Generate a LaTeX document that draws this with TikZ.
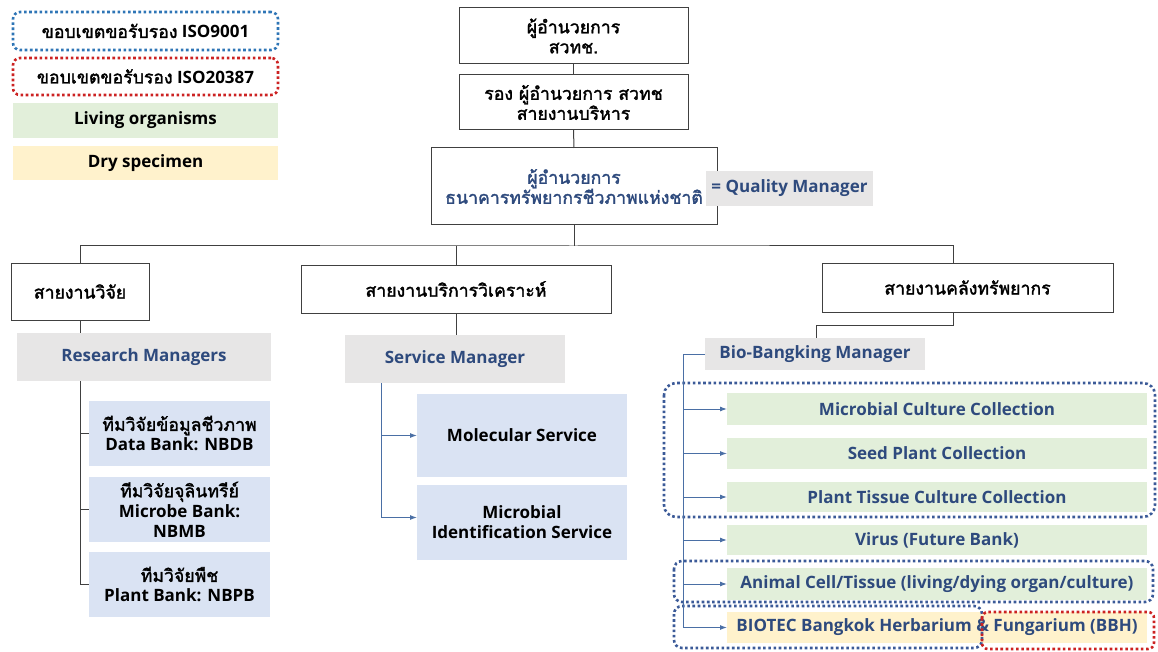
\documentclass[tikz,border=0pt]{standalone}
\usepackage{fontspec}
\setmainfont{Open Sans}
\newfontfamily\thf[Script=Thai,Scale=1.04,AutoFakeBold=1.8]{Loma}
\usetikzlibrary{arrows.meta}
\definecolor{navy}{HTML}{2E4A7D}
\definecolor{boxline}{HTML}{404040}
\definecolor{graybg}{HTML}{E7E6E6}
\definecolor{bluebg}{HTML}{DAE3F3}
\definecolor{greenbg}{HTML}{E2EFDA}
\definecolor{creambg}{HTML}{FFF2CC}
\definecolor{arrowblue}{HTML}{4A6FA5}
\definecolor{legblue}{HTML}{2E75B6}
\definecolor{dotblue}{HTML}{3B5A98}
\definecolor{dotred}{HTML}{CC2222}
\newcommand\bx[7]{\node[#6, minimum width={(#4-#2)*1pt}, minimum height={(#5-#3)*1pt}] (#1) at ({(#2+#4)/2},{(#3+#5)/2}) {#7};}
\tikzset{
 base/.style={inner sep=0pt, outer sep=0pt, align=center, font=\fontsize{17}{20}\selectfont\bfseries},
 whitebox/.style={base, draw=boxline, line width=1pt, fill=white},
 grayfill/.style={base, fill=graybg, text=navy},
 bluefill/.style={base, fill=bluebg},
 greenfill/.style={base, fill=greenbg, text=navy},
 creamfill/.style={base, fill=creambg, text=navy},
 legfill/.style={base, fill=#1},
 dotpat/.style={line width=2.6pt, dash pattern=on 2.6pt off 2.6pt},
 legdot/.style={base, draw=#1, dotpat, rounded corners=7pt},
 conn/.style={draw=boxline, line width=1pt},
 bline/.style={draw=arrowblue, line width=1pt},
 arr/.style={draw=arrowblue, line width=1pt, -{Latex[length=7pt,width=5pt]}},
}
\begin{document}
\begin{tikzpicture}[x=1pt,y=-1pt]
\useasboundingbox[fill=white] (0,0) rectangle (1158,652);
% legend
\bx{lg1}{13}{12}{278}{50}{legdot=legblue}{{\thf ขอบเขตขอรับรอง} ISO9001}
\bx{lg2}{13}{58}{278}{95}{legdot=dotred}{{\thf ขอบเขตขอรับรอง} ISO20387}
\bx{lg3}{13}{103}{278}{138}{legfill=greenbg}{Living organisms}
\bx{lg4}{13}{146}{278}{180}{legfill=creambg}{Dry specimen}
% top
\bx{d1}{459}{8}{688}{64}{whitebox}{{\thf ผู้อำนวยการ}\\{\thf สวทช.}}
\bx{d2}{459}{75}{688}{130}{whitebox}{{\thf รอง ผู้อำนวยการ สวทช}\\{\thf สายงานบริหาร}}
\bx{d3}{431}{148}{717}{225}{whitebox, text=navy}{{\thf ผู้อำนวยการ}\\{\thf ธนาคารทรัพยากรชีวภาพแห่งชาติ}}
\bx{qm}{706}{171}{873}{206}{grayfill}{= Quality Manager}
% level 2
\bx{l1}{11}{263}{149}{320}{whitebox}{{\thf สายงานวิจัย}}
\bx{l2}{301}{265}{611}{313}{whitebox}{{\thf สายงานบริการวิเคราะห์}}
\bx{l3}{822}{263}{1113}{312}{whitebox}{{\thf สายงานคลังทรัพยากร}}
% managers
\bx{rm}{17}{333}{271}{381}{grayfill}{Research Managers}
\bx{sm}{345}{335}{565}{383}{grayfill}{Service Manager}
\bx{bm}{705}{338}{925}{370}{grayfill}{Bio-Bangking Manager}
% teams
\bx{ta}{89}{401}{270}{466}{bluefill}{{\thf ทีมวิจัยข้อมูลชีวภาพ}\\Data Bank: NBDB}
\bx{tb}{89}{477}{270}{542}{bluefill}{{\thf ทีมวิจัยจุลินทรีย์}\\Microbe Bank:\\NBMB}
\bx{tc}{89}{552}{270}{617}{bluefill}{{\thf ทีมวิจัยพืช}\\Plant Bank: NBPB}
% services
\bx{ms}{417}{394}{627}{477}{bluefill}{Molecular Service}
\bx{mi}{417}{485}{627}{560}{bluefill}{Microbial\\Identification Service}
% collections
\bx{c1}{727}{393}{1147}{425}{greenfill}{Microbial Culture Collection}
\bx{c2}{727}{438}{1147}{469}{greenfill}{Seed Plant Collection}
\bx{c3}{727}{482}{1147}{512}{greenfill}{Plant Tissue Culture Collection}
\bx{c4}{727}{525}{1147}{555}{greenfill}{Virus (Future Bank)}
\bx{c5}{727}{568}{1147}{600}{greenfill}{Animal Cell/Tissue (living/dying organ/culture)}
\bx{c6}{727}{612}{1147}{643}{creamfill}{BIOTEC Bangkok Herbarium \& Fungarium (BBH)}
% dotted frames
\draw[draw=dotblue, dotpat, rounded corners=12pt] (664,383) rectangle (1155,517);
\draw[draw=dotblue, dotpat, rounded corners=8pt] (674,561) rectangle (1153,602);
\draw[draw=dotblue, dotpat, rounded corners=8pt] (674,606) rectangle (982,648);
\draw[draw=dotred, dotpat, rounded corners=6pt] (982,612) rectangle (1154,649);
% connectors
\draw[conn] (d1.south) -- (d2.north);
\draw[conn] (d2.south) -- (d3.north);
\coordinate (busm) at (574,246);
\coordinate (bus2) at (456,246);
\coordinate (bus3) at (953,246);
\draw[conn] (d3.south) -- (busm);
\draw[conn] (l1.north) |- (busm) -| (bus3 |- l3.north);
\draw[conn] (bus2) -- (bus2 |- l2.north);
\draw[conn] (l1.south) -- (l1.south |- rm.north);
\coordinate (rt) at (l1.south |- rm.south);
\draw[conn] (rt) |- (ta.west);
\draw[conn] (rt) |- (tb.west);
\draw[conn] (rt) |- (tc.west);
\draw[conn] (l2.south) -- (l2.south |- sm.north);
\coordinate (st) at (381,383);
\draw[arr] (st) |- (ms.west);
\draw[arr] (st) |- ([yshift=5pt]mi.west);
\coordinate (bk1) at (953,325);
\coordinate (bk2) at (816,325);
\draw[conn] (bk1 |- l3.south) -- (bk1) -- (bk2) -- (bk2 |- bm.north);
\coordinate (bt) at (683,354);
\draw[bline] (bm.west) -- (bt);
\foreach \c in {c1,c2,c3,c4,c5,c6} \draw[arr] (bt) |- (\c.west);
\end{tikzpicture}
\end{document}
